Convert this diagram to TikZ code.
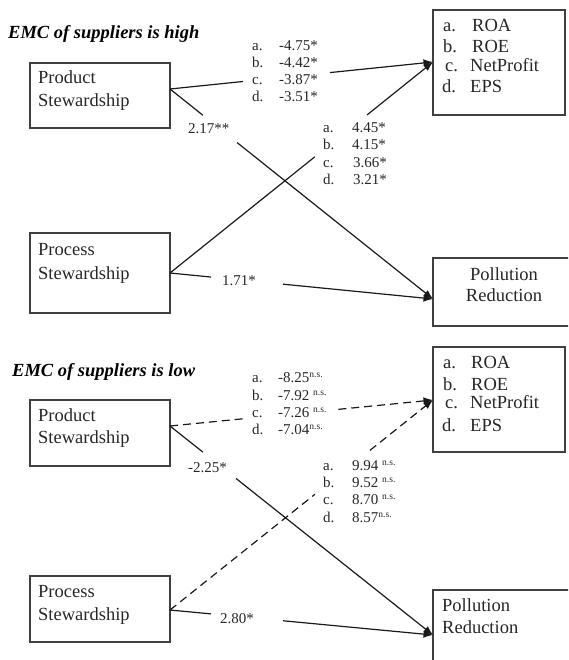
\documentclass[tikz,border=0pt]{standalone}
\usepackage{fontspec}
\setmainfont{Liberation Serif}
\usetikzlibrary{arrows.meta,calc}
\newcommand\NSmark{\raisebox{5pt}{\fontsize{9.5}{9.5}\selectfont n.s.}}
\tikzset{
  box/.style={draw=black!75, line width=1.1pt, anchor=north west, inner sep=0pt, outer sep=0pt},
  btxt/.style={anchor=base west, inner sep=0pt, font=\fontsize{18.5}{22}\selectfont, text=black!85},
  ctxt/.style={anchor=base, inner sep=0pt, font=\fontsize{18.5}{22}\selectfont, text=black!85},
  lbl/.style={anchor=base west, inner sep=0pt, font=\fontsize{15}{17}\selectfont, text=black!85},
  ttl/.style={anchor=base west, inner sep=0pt, font=\fontsize{18.5}{22}\selectfont\bfseries\itshape},
  conn/.style={line width=1.2pt, draw=black!90},
  arr/.style={conn, -{Latex[length=9.5pt,width=7.5pt]}},
  dsh/.style={dash pattern=on 8pt off 5pt}
}
\begin{document}
\begin{tikzpicture}[x=1pt,y=-1pt]
\useasboundingbox (0,0) rectangle (568,660);
\clip (0,0) rectangle (568,660);

% ---------------- top panel ----------------
\node[ttl] (title1) at (8,39) {EMC of suppliers is high};

\node[box, minimum width=140pt, minimum height=65pt] (prod1) at (30,63) {};
\node[btxt] (prod1a) at (38,84) {Product};
\node[btxt] (prod1b) at (38,107) {Stewardship};

\node[box, minimum width=140pt, minimum height=80pt] (proc1) at (30,233) {};
\node[btxt] (proc1a) at (38,255) {Process};
\node[btxt] (proc1b) at (38,279) {Stewardship};

\node[box, minimum width=132pt, minimum height=105pt] (roa1) at (433,10) {};
\node[btxt] (roa1a1) at (443,32) {a.};  \node[btxt] (roa1a2) at (472,32) {ROA};
\node[btxt] (roa1b1) at (443,53) {b.};  \node[btxt] (roa1b2) at (472,53) {ROE};
\node[btxt] (roa1c1) at (445,72) {c.};  \node[btxt] (roa1c2) at (470,72) {NetProfit};
\node[btxt] (roa1d1) at (442,93) {d.};  \node[btxt] (roa1d2) at (470,93) {EPS};

\node[box, minimum width=150pt, minimum height=68pt] (pol1) at (433,258) {};
\node[ctxt] (pol1a) at (504,280) {Pollution};
\node[ctxt] (pol1b) at (504,301) {Reduction};

% labels
\node[lbl] (l1a1) at (252,51) {a.};  \node[lbl] (l1a2) at (279,51) {-4.75*};
\node[lbl] (l1b1) at (252,68) {b.};  \node[lbl] (l1b2) at (279,68) {-4.42*};
\node[lbl] (l1c1) at (252,85) {c.};  \node[lbl] (l1c2) at (279,85) {-3.87*};
\node[lbl] (l1d1) at (252,102) {d.}; \node[lbl] (l1d2) at (279,102) {-3.51*};

\node[lbl] (l2a1) at (323,133) {a.};  \node[lbl] (l2a2) at (352,133) {4.45*};
\node[lbl] (l2b1) at (323,150) {b.};  \node[lbl] (l2b2) at (352,150) {4.15*};
\node[lbl] (l2c1) at (323,168) {c.};  \node[lbl] (l2c2) at (353,168) {3.66*};
\node[lbl] (l2d1) at (323,185) {d.};  \node[lbl] (l2d2) at (353,185) {3.21*};

\node[lbl] (l3) at (188,134) {2.17**};
\node[lbl] (l4) at (222,285) {1.71*};

% connectors
\coordinate (p1o) at (prod1.east |- 0,89);
\coordinate (q1o) at (proc1.east |- 0,273);
\coordinate (r1i) at (roa1.west |- 0,62);
\coordinate (s1i) at (pol1.west |- 0,299);

\draw[conn] (p1o) -- ($(p1o)!0.278!(r1i)$);
\draw[arr] ($(p1o)!0.608!(r1i)$) -- (r1i);
\draw[conn] (p1o) -- ($(p1o)!0.125!(s1i)$);
\draw[arr] ($(p1o)!0.255!(s1i)$) -- (s1i);
\draw[conn] (q1o) -- ($(q1o)!0.551!(r1i)$);
\draw[arr] ($(q1o)!0.749!(r1i)$) -- (r1i);
\draw[conn] (q1o) -- ($(q1o)!0.156!(s1i)$);
\draw[arr] ($(q1o)!0.43!(s1i)$) -- (s1i);

% ---------------- bottom panel ----------------
\node[ttl] (title2) at (12,376) {EMC of suppliers is low};

\node[box, minimum width=140pt, minimum height=66pt] (prod2) at (30,400) {};
\node[btxt] (prod2a) at (38,421) {Product};
\node[btxt] (prod2b) at (38,443) {Stewardship};

\node[box, minimum width=140pt, minimum height=66pt] (proc2) at (30,576) {};
\node[btxt] (proc2a) at (38,597) {Process};
\node[btxt] (proc2b) at (38,620) {Stewardship};

\node[box, minimum width=132pt, minimum height=105pt] (roa2) at (433,347) {};
\node[btxt] (roa2a1) at (443,368) {a.};  \node[btxt] (roa2a2) at (471,368) {ROA};
\node[btxt] (roa2b1) at (443,390) {b.};  \node[btxt] (roa2b2) at (471,390) {ROE};
\node[btxt] (roa2c1) at (445,408) {c.};  \node[btxt] (roa2c2) at (470,408) {NetProfit};
\node[btxt] (roa2d1) at (442,431) {d.};  \node[btxt] (roa2d2) at (470,431) {EPS};

\node[box, minimum width=150pt, minimum height=80pt] (pol2) at (433,590) {};
\node[btxt] (pol2a) at (442,611) {Pollution};
\node[btxt] (pol2b) at (442,633) {Reduction};

\node[lbl] (m1a1) at (252,382) {a.};  \node[lbl] (m1a2) at (278,382) {-8.25\NSmark};
\node[lbl] (m1b1) at (252,400) {b.};  \node[lbl] (m1b2) at (278,400) {-7.92 \NSmark};
\node[lbl] (m1c1) at (252,417) {c.};  \node[lbl] (m1c2) at (278,417) {-7.26 \NSmark};
\node[lbl] (m1d1) at (252,434) {d.};  \node[lbl] (m1d2) at (278,434) {-7.04\NSmark};

\node[lbl] (m2a1) at (323,470) {a.};  \node[lbl] (m2a2) at (352,470) {9.94 \NSmark};
\node[lbl] (m2b1) at (323,487) {b.};  \node[lbl] (m2b2) at (352,487) {9.52 \NSmark};
\node[lbl] (m2c1) at (323,504) {c.};  \node[lbl] (m2c2) at (352,504) {8.70 \NSmark};
\node[lbl] (m2d1) at (323,522) {d.};  \node[lbl] (m2d2) at (352,522) {8.57\NSmark};

\node[lbl] (m3) at (188,472) {-2.25*};
\node[lbl] (m4) at (220,623) {2.80*};

\coordinate (p2o) at (prod2.east |- 0,426);
\coordinate (q2o) at (proc2.east |- 0,610);
\coordinate (r2i) at (roa2.west |- 0,400);
\coordinate (s2i) at (pol2.west |- 0,635);

\draw[conn,dsh] (p2o) -- ($(p2o)!0.278!(r2i)$);
\draw[arr,dsh] ($(p2o)!0.64!(r2i)$) -- (r2i);
\draw[conn] (p2o) -- ($(p2o)!0.125!(s2i)$);
\draw[arr] ($(p2o)!0.251!(s2i)$) -- (s2i);
\draw[conn,dsh] (q2o) -- ($(q2o)!0.551!(r2i)$);
\draw[arr,dsh] ($(q2o)!0.76!(r2i)$) -- (r2i);
\draw[conn] (q2o) -- ($(q2o)!0.156!(s2i)$);
\draw[arr] ($(q2o)!0.43!(s2i)$) -- (s2i);
\end{tikzpicture}
\end{document}
